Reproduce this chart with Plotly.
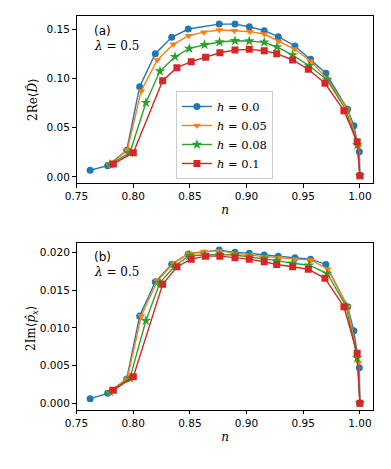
import plotly.graph_objects as go
from plotly.subplots import make_subplots

# n values per series (shared by both panels)
n_h00 = [0.762, 0.7775, 0.7943, 0.8057, 0.8195, 0.834, 0.8486, 0.8759, 0.8898, 0.9024,
         0.9156, 0.928, 0.9427, 0.9565, 0.970, 0.9892, 0.9947, 0.9995, 1.0]
n_h05 = [0.7789, 0.7948, 0.8071, 0.8212, 0.8354, 0.8489, 0.8624, 0.8759, 0.8892, 0.903,
         0.9156, 0.9285, 0.9423, 0.9566, 0.9716, 0.9892, 0.9987, 1.0]
n_h08 = [0.7795, 0.7971, 0.8112, 0.8236, 0.8369, 0.8495, 0.8629, 0.8762, 0.8898, 0.9024,
         0.9156, 0.9268, 0.9406, 0.9553, 0.9712, 0.9877, 0.9977, 1.0]
n_h10 = [0.7825, 0.8001, 0.826, 0.8386, 0.8512, 0.8639, 0.8765, 0.8898, 0.9024, 0.9156,
         0.9266, 0.9407, 0.9545, 0.9692, 0.9859, 0.9976, 1.0]

# (a) 2Re<D>
re_h00 = [0.0068, 0.0115, 0.0271, 0.0915, 0.125, 0.1416, 0.150, 0.155, 0.155, 0.1523,
          0.1483, 0.1422, 0.1328, 0.1193, 0.1051, 0.0686, 0.052, 0.0256, 0.0013]
re_h05 = [0.0122, 0.0274, 0.0872, 0.1186, 0.1345, 0.1432, 0.1468, 0.149, 0.1483, 0.1473,
          0.1449, 0.1375, 0.1297, 0.1173, 0.099, 0.0687, 0.0307, 0.0013]
re_h08 = [0.0129, 0.0246, 0.0753, 0.1074, 0.1219, 0.1302, 0.1341, 0.1368, 0.1381, 0.1378,
          0.1365, 0.1318, 0.1236, 0.1128, 0.0983, 0.0679, 0.0324, 0.0013]
re_h10 = [0.0132, 0.0246, 0.0976, 0.1108, 0.1169, 0.1214, 0.1259, 0.1287, 0.1294, 0.128,
          0.125, 0.1186, 0.1092, 0.095, 0.0672, 0.0358, 0.0013]

# (b) 2Im<p_x>
im_h00 = [0.00061, 0.00132, 0.00322, 0.01157, 0.0161, 0.01842, 0.0198, 0.0203, 0.0200, 0.0199,
          0.01965, 0.0195, 0.0193, 0.0191, 0.0184, 0.0128, 0.0096, 0.0047, 0.0]
im_h05 = [0.00146, 0.0033, 0.01157, 0.0162, 0.01855, 0.0199, 0.0201, 0.0202, 0.0199, 0.01965,
          0.01943, 0.0193, 0.0191, 0.019, 0.0178, 0.0128, 0.0054, 0.0]
im_h08 = [0.00154, 0.0033, 0.01095, 0.0160, 0.01823, 0.01956, 0.01965, 0.0197, 0.01965, 0.0194,
          0.0192, 0.0189, 0.01855, 0.0183, 0.0172, 0.0129, 0.006, 0.0]
im_h10 = [0.00172, 0.00352, 0.01577, 0.0181, 0.0191, 0.0195, 0.0195, 0.0193, 0.0191, 0.01876,
          0.0184, 0.0181, 0.01776, 0.01656, 0.0128, 0.00663, 0.0]

labels = ["<i>h</i> = 0.0", "<i>h</i> = 0.05", "<i>h</i> = 0.08", "<i>h</i> = 0.1"]
colors = ["#1f77b4", "#ff7f0e", "#2ca02c", "#d62728"]
symbols = ["circle", "triangle-down", "star", "square"]
n_all = [n_h00, n_h05, n_h08, n_h10]
re_all = [re_h00, re_h05, re_h08, re_h10]
im_all = [im_h00, im_h05, im_h08, im_h10]

SANS = "DejaVu Sans"
SERIF = "DejaVu Serif"
W, H = 391, 469

fig = make_subplots(rows=2, cols=1)

for i in range(4):
    for row, ys in ((1, re_all[i]), (2, im_all[i])):
        fig.add_trace(go.Scatter(
            x=n_all[i], y=ys, mode="lines+markers",
            name=labels[i], legendgroup=labels[i], showlegend=(row == 1),
            line=dict(color=colors[i], width=1.4),
            marker=dict(symbol=symbols[i], color=colors[i], size=7 if symbols[i] != "star" else 8,
                        line=dict(width=0)),
        ), row=row, col=1)

axis_common = dict(
    showline=True, linecolor="black", linewidth=1, mirror=True,
    ticks="outside", ticklen=3.5, tickwidth=0.8, tickcolor="black",
    showgrid=False, zeroline=False, automargin=False,
    tickfont=dict(family=SANS, size=10.5, color="black"),
)

fig.update_xaxes(range=[0.75, 1.012], tickvals=[0.75, 0.80, 0.85, 0.90, 0.95, 1.00],
                 tickformat=".2f", **axis_common)
fig.update_xaxes(title=dict(text="<i>n</i>", font=dict(family=SERIF, size=12, color="black"),
                            standoff=4))

fig.update_layout(
    width=W, height=H,
    margin=dict(l=0, r=0, t=0, b=0),
    paper_bgcolor="white", plot_bgcolor="white",
    xaxis=dict(domain=[0.1957, 0.9552], anchor="y"),
    yaxis=dict(domain=[0.6098, 0.9659], range=[-0.0061, 0.1632],
               tickvals=[0.0, 0.05, 0.10, 0.15], tickformat=".2f", **axis_common),
    xaxis2=dict(domain=[0.1957, 0.9552], anchor="y2"),
    yaxis2=dict(domain=[0.1258, 0.4812], range=[-0.00089, 0.0212],
                tickvals=[0.0, 0.005, 0.010, 0.015, 0.020], tickformat=".3f", **axis_common),
    legend=dict(
        x=0.45, y=0.806, xanchor="left", yanchor="top",
        bgcolor="rgba(255,255,255,0.8)", bordercolor="#cccccc", borderwidth=1,
        font=dict(family=SERIF, size=11.5, color="black"),
        tracegroupgap=0, itemwidth=30,
    ),
    showlegend=True,
)

# y-axis titles
fig.add_annotation(xref="paper", yref="paper", x=32 / W, y=1 - 100 / H, textangle=-90,
                   xanchor="center", yanchor="middle", showarrow=False,
                   text="2Re⟨<i>D̂</i>⟩", font=dict(family=SERIF, size=12, color="black"))
fig.add_annotation(xref="paper", yref="paper", x=32 / W, y=1 - 328 / H, textangle=-90,
                   xanchor="center", yanchor="middle", showarrow=False,
                   text="2Im⟨<i>p̂<sub>x</sub></i>⟩", font=dict(family=SERIF, size=12, color="black"))

# panel tags
fig.add_annotation(xref="paper", yref="paper", x=92 / W, y=1 - 31 / H, xanchor="left", yanchor="middle",
                   text="(a)", showarrow=False, font=dict(family=SANS, size=12, color="black"))
fig.add_annotation(xref="paper", yref="paper", x=92 / W, y=1 - 46 / H, xanchor="left", yanchor="middle",
                   text="<i>λ</i> = 0.5", showarrow=False, font=dict(family=SERIF, size=12, color="black"))
fig.add_annotation(xref="paper", yref="paper", x=92 / W, y=1 - 257 / H, xanchor="left", yanchor="middle",
                   text="(b)", showarrow=False, font=dict(family=SANS, size=12, color="black"))
fig.add_annotation(xref="paper", yref="paper", x=92 / W, y=1 - 272 / H, xanchor="left", yanchor="middle",
                   text="<i>λ</i> = 0.5", showarrow=False, font=dict(family=SERIF, size=12, color="black"))

fig.write_html("out.html", config={"displayModeBar": False},
               post_script="document.body.style.margin='0';")
